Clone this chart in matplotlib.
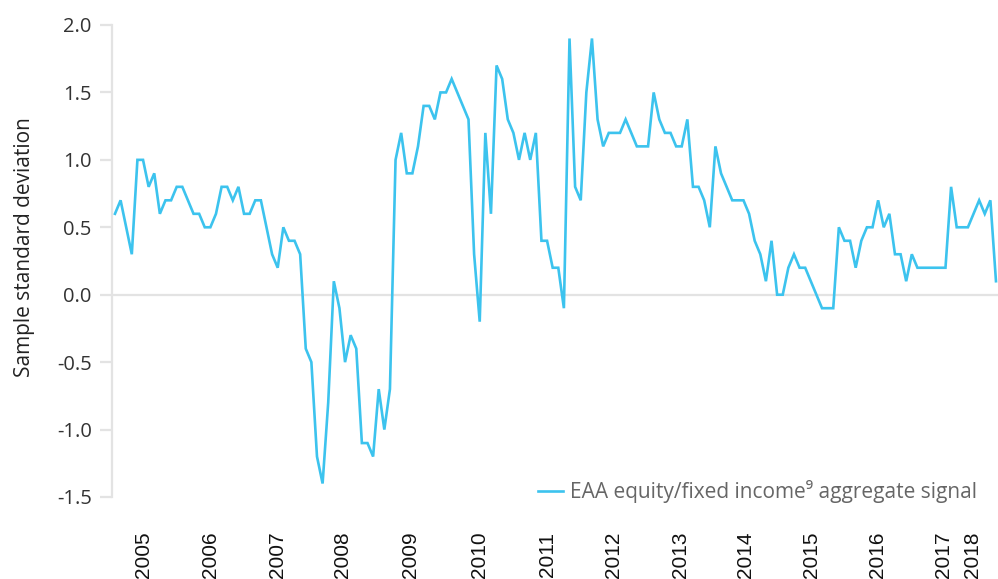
import matplotlib
matplotlib.use("Agg")
import matplotlib.pyplot as plt

# Monthly signal values (index 0 = first observation)
signal = [
    0.6, 0.7, 0.5, 0.3, 1.0, 1.0, 0.8, 0.9, 0.6, 0.7,
    0.7, 0.8, 0.8, 0.7, 0.6, 0.6, 0.5, 0.5, 0.6, 0.8,
    0.8, 0.7, 0.8, 0.6, 0.6, 0.7, 0.7, 0.5, 0.3, 0.2,
    0.5, 0.4, 0.4, 0.3, -0.4, -0.5, -1.2, -1.4, -0.8, 0.1,
    -0.1, -0.5, -0.3, -0.4, -1.1, -1.1, -1.2, -0.7, -1.0, -0.7,
    1.0, 1.2, 0.9, 0.9, 1.1, 1.4, 1.4, 1.3, 1.5, 1.5,
    1.6, 1.5, 1.4, 1.3, 0.3, -0.2, 1.2, 0.6, 1.7, 1.6,
    1.3, 1.2, 1.0, 1.2, 1.0, 1.2, 0.4, 0.4, 0.2, 0.2,
    -0.1, 1.9, 0.8, 0.7, 1.5, 1.9, 1.3, 1.1, 1.2, 1.2,
    1.2, 1.3, 1.2, 1.1, 1.1, 1.1, 1.5, 1.3, 1.2, 1.2,
    1.1, 1.1, 1.3, 0.8, 0.8, 0.7, 0.5, 1.1, 0.9, 0.8,
    0.7, 0.7, 0.7, 0.6, 0.4, 0.3, 0.1, 0.4, 0.0, 0.0,
    0.2, 0.3, 0.2, 0.2, 0.1, 0.0, -0.1, -0.1, -0.1, 0.5,
    0.4, 0.4, 0.2, 0.4, 0.5, 0.5, 0.7, 0.5, 0.6, 0.3,
    0.3, 0.1, 0.3, 0.2, 0.2, 0.2, 0.2, 0.2, 0.2, 0.8,
    0.5, 0.5, 0.5, 0.6, 0.7, 0.6, 0.7, 0.1,
]
year_labels = ["2005", "2006", "2007", "2008", "2009", "2010", "2011",
               "2012", "2013", "2014", "2015", "2016", "2017", "2018"]
year_positions = [5, 17, 29, 40.6, 52.7, 65, 77, 88.8, 100.7, 112.3,
                  124.2, 135.8, 147.6, 152.9]
y_ticks = [2.0, 1.5, 1.0, 0.5, 0.0, -0.5, -1.0, -1.5]
series_name = "EAA equity/fixed income\u2079 aggregate signal"

W, H = 998, 579
fig = plt.figure(figsize=(W / 100, H / 100), dpi=100)
ax = fig.add_axes([112 / W, (H - 497) / H, (W - 112) / W, (497 - 25) / H])

x = list(range(len(signal)))
ax.axhline(0, color="#e3e3e3", lw=1.6, zorder=1)
ax.plot(x, signal, color="#3cc3ee", lw=1.9, zorder=3, label=series_name,
        solid_joinstyle="miter")

ax.set_xlim(-0.53, 157.36)
ax.set_ylim(-1.5, 2.0)

for s in ["top", "right", "bottom"]:
    ax.spines[s].set_visible(False)
ax.spines["left"].set_color("#e3e3e3")
ax.spines["left"].set_linewidth(1.6)

ax.set_yticks(y_ticks)
ax.set_yticklabels([f"{v:.1f}" for v in y_ticks], family=["Open Sans", "DejaVu Sans"],
                   fontsize=14.5, color="#333333")
ax.tick_params(axis="y", length=8.5, width=1.6, color="#e3e3e3", pad=6)

ax.set_xticks(year_positions)
ax.set_xticklabels(year_labels, rotation=90, family=["Liberation Sans", "DejaVu Sans"],
                   fontsize=15, color="#111111")
ax.tick_params(axis="x", length=0, pad=25)

ax.set_ylabel("Sample standard deviation", family=["Open Sans", "DejaVu Sans"],
              fontsize=15, color="#222222")
ax.yaxis.set_label_coords((35 - 112) / 886, 0.53)

leg = ax.legend(loc="center right", bbox_to_anchor=(0.976, 0.0106), frameon=False,
                borderpad=0, borderaxespad=0, handlelength=1.2, handletextpad=0.34,
                prop={"family": ["Open Sans", "DejaVu Sans"], "size": 15},
                labelcolor="#666666")

fig.savefig("out.png", dpi=100)
